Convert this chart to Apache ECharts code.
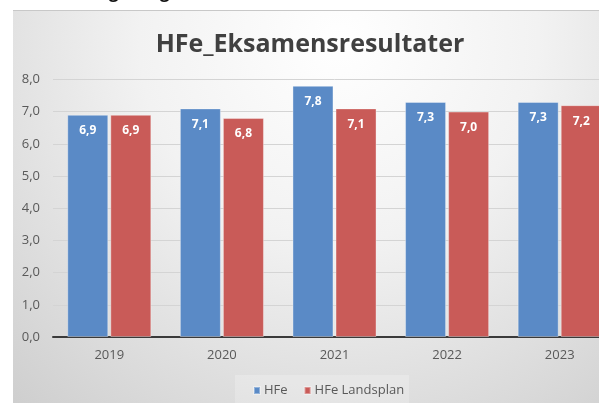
<!DOCTYPE html>
<html>
<head>
<meta charset="utf-8">
<script src="https://cdn.jsdelivr.net/npm/echarts@6/dist/echarts.min.js"></script>
<style>
html,body{margin:0;padding:0;background:#fff;overflow:hidden;width:599px;height:403px;}
#c{width:640px;height:403px;}
</style>
</head>
<body>
<div id="c"></div>
<script>
var categories = ['2019', '2020', '2021', '2022', '2023'];
var hfe = [6.9, 7.1, 7.8, 7.3, 7.3];
var landsplan = [6.9, 6.8, 7.1, 7.0, 7.2];
var seriesNames = ['HFe', 'HFe Landsplan'];
var titleText = 'HFe_Eksamensresultater';

var fmt = function (v) { return Number(v).toFixed(1).replace('.', ','); };
var font = '"Open Sans", "Liberation Sans", sans-serif';

var chart = echarts.init(document.getElementById('c'), null, {renderer: 'canvas'});
chart.setOption({
  backgroundColor: '#ffffff',
  animation: false,
  graphic: [
    {type: 'rect', z: -10, silent: true,
     shape: {x: 13, y: 10, width: 627, height: 393},
     style: {fill: {type: 'radial', x: 0.52, y: 0.08, r: 1.45,
       colorStops: [{offset: 0, color: '#ffffff'}, {offset: 0.35, color: '#f2f2f2'}, {offset: 1, color: '#c4c4c4'}]}}},
    {type: 'rect', z: -9, silent: true,
     shape: {x: 13, y: 10, width: 627, height: 1},
     style: {fill: '#c8c8c8'}},
    {type: 'rect', z: -8, silent: true,
     shape: {x: 235, y: 375, width: 174, height: 28},
     style: {fill: 'rgba(255,255,255,0.22)'}},
    {type: 'text', silent: true, style: {text: 'g', x: 109, y: -15, verticalAlign: 'top', fontSize: 17, fontWeight: 'bold', fontFamily: font, fill: '#111'}},
    {type: 'text', silent: true, style: {text: 'g', x: 160, y: -15, verticalAlign: 'top', fontSize: 17, fontWeight: 'bold', fontFamily: font, fill: '#111'}}
  ],
  title: {
    text: titleText,
    left: 305, textAlign: 'center', top: 27,
    textStyle: {fontFamily: font, fontWeight: 'bold', fontSize: 25, color: '#404040'}
  },
  legend: {
    data: seriesNames,
    left: 248, top: 379,
    icon: 'rect', itemWidth: 6, itemHeight: 7, itemGap: 16,
    textStyle: {fontFamily: font, fontSize: 13, color: '#595959', padding: [0, 0, 0, -1]}
  },
  grid: {left: 53, top: 79.4, width: 563, height: 257.6, containLabel: false},
  xAxis: {
    type: 'category', data: categories,
    axisLine: {show: true, lineStyle: {color: '#3a3a3a', width: 2}},
    axisTick: {show: false},
    axisLabel: {fontFamily: font, fontSize: 13, color: '#595959', margin: 12}
  },
  yAxis: {
    type: 'value', min: 0, max: 8, interval: 1,
    axisLine: {show: false}, axisTick: {show: false},
    splitLine: {lineStyle: {color: '#d4d4d4', width: 1}},
    axisLabel: {fontFamily: font, fontSize: 13, color: '#595959', margin: 13, formatter: fmt}
  },
  series: [
    {name: seriesNames[0], type: 'bar', data: hfe, barWidth: 41, barGap: '5%',
     itemStyle: {color: '#5a8ac6', borderColor: 'rgba(255,255,255,0.35)', borderWidth: 1},
     label: {show: true, position: 'insideTop', distance: 10, color: '#fff', fontWeight: 'bold', fontSize: 12, fontFamily: font,
       formatter: function (p) { return fmt(p.value); }}},
    {name: seriesNames[1], type: 'bar', data: landsplan, barWidth: 41, barGap: '5%',
     itemStyle: {color: '#c95b58', borderColor: 'rgba(255,255,255,0.35)', borderWidth: 1},
     label: {show: true, position: 'insideTop', distance: 10, color: '#fff', fontWeight: 'bold', fontSize: 12, fontFamily: font,
       formatter: function (p) { return fmt(p.value); }}}
  ]
});
</script>
</body>
</html>
